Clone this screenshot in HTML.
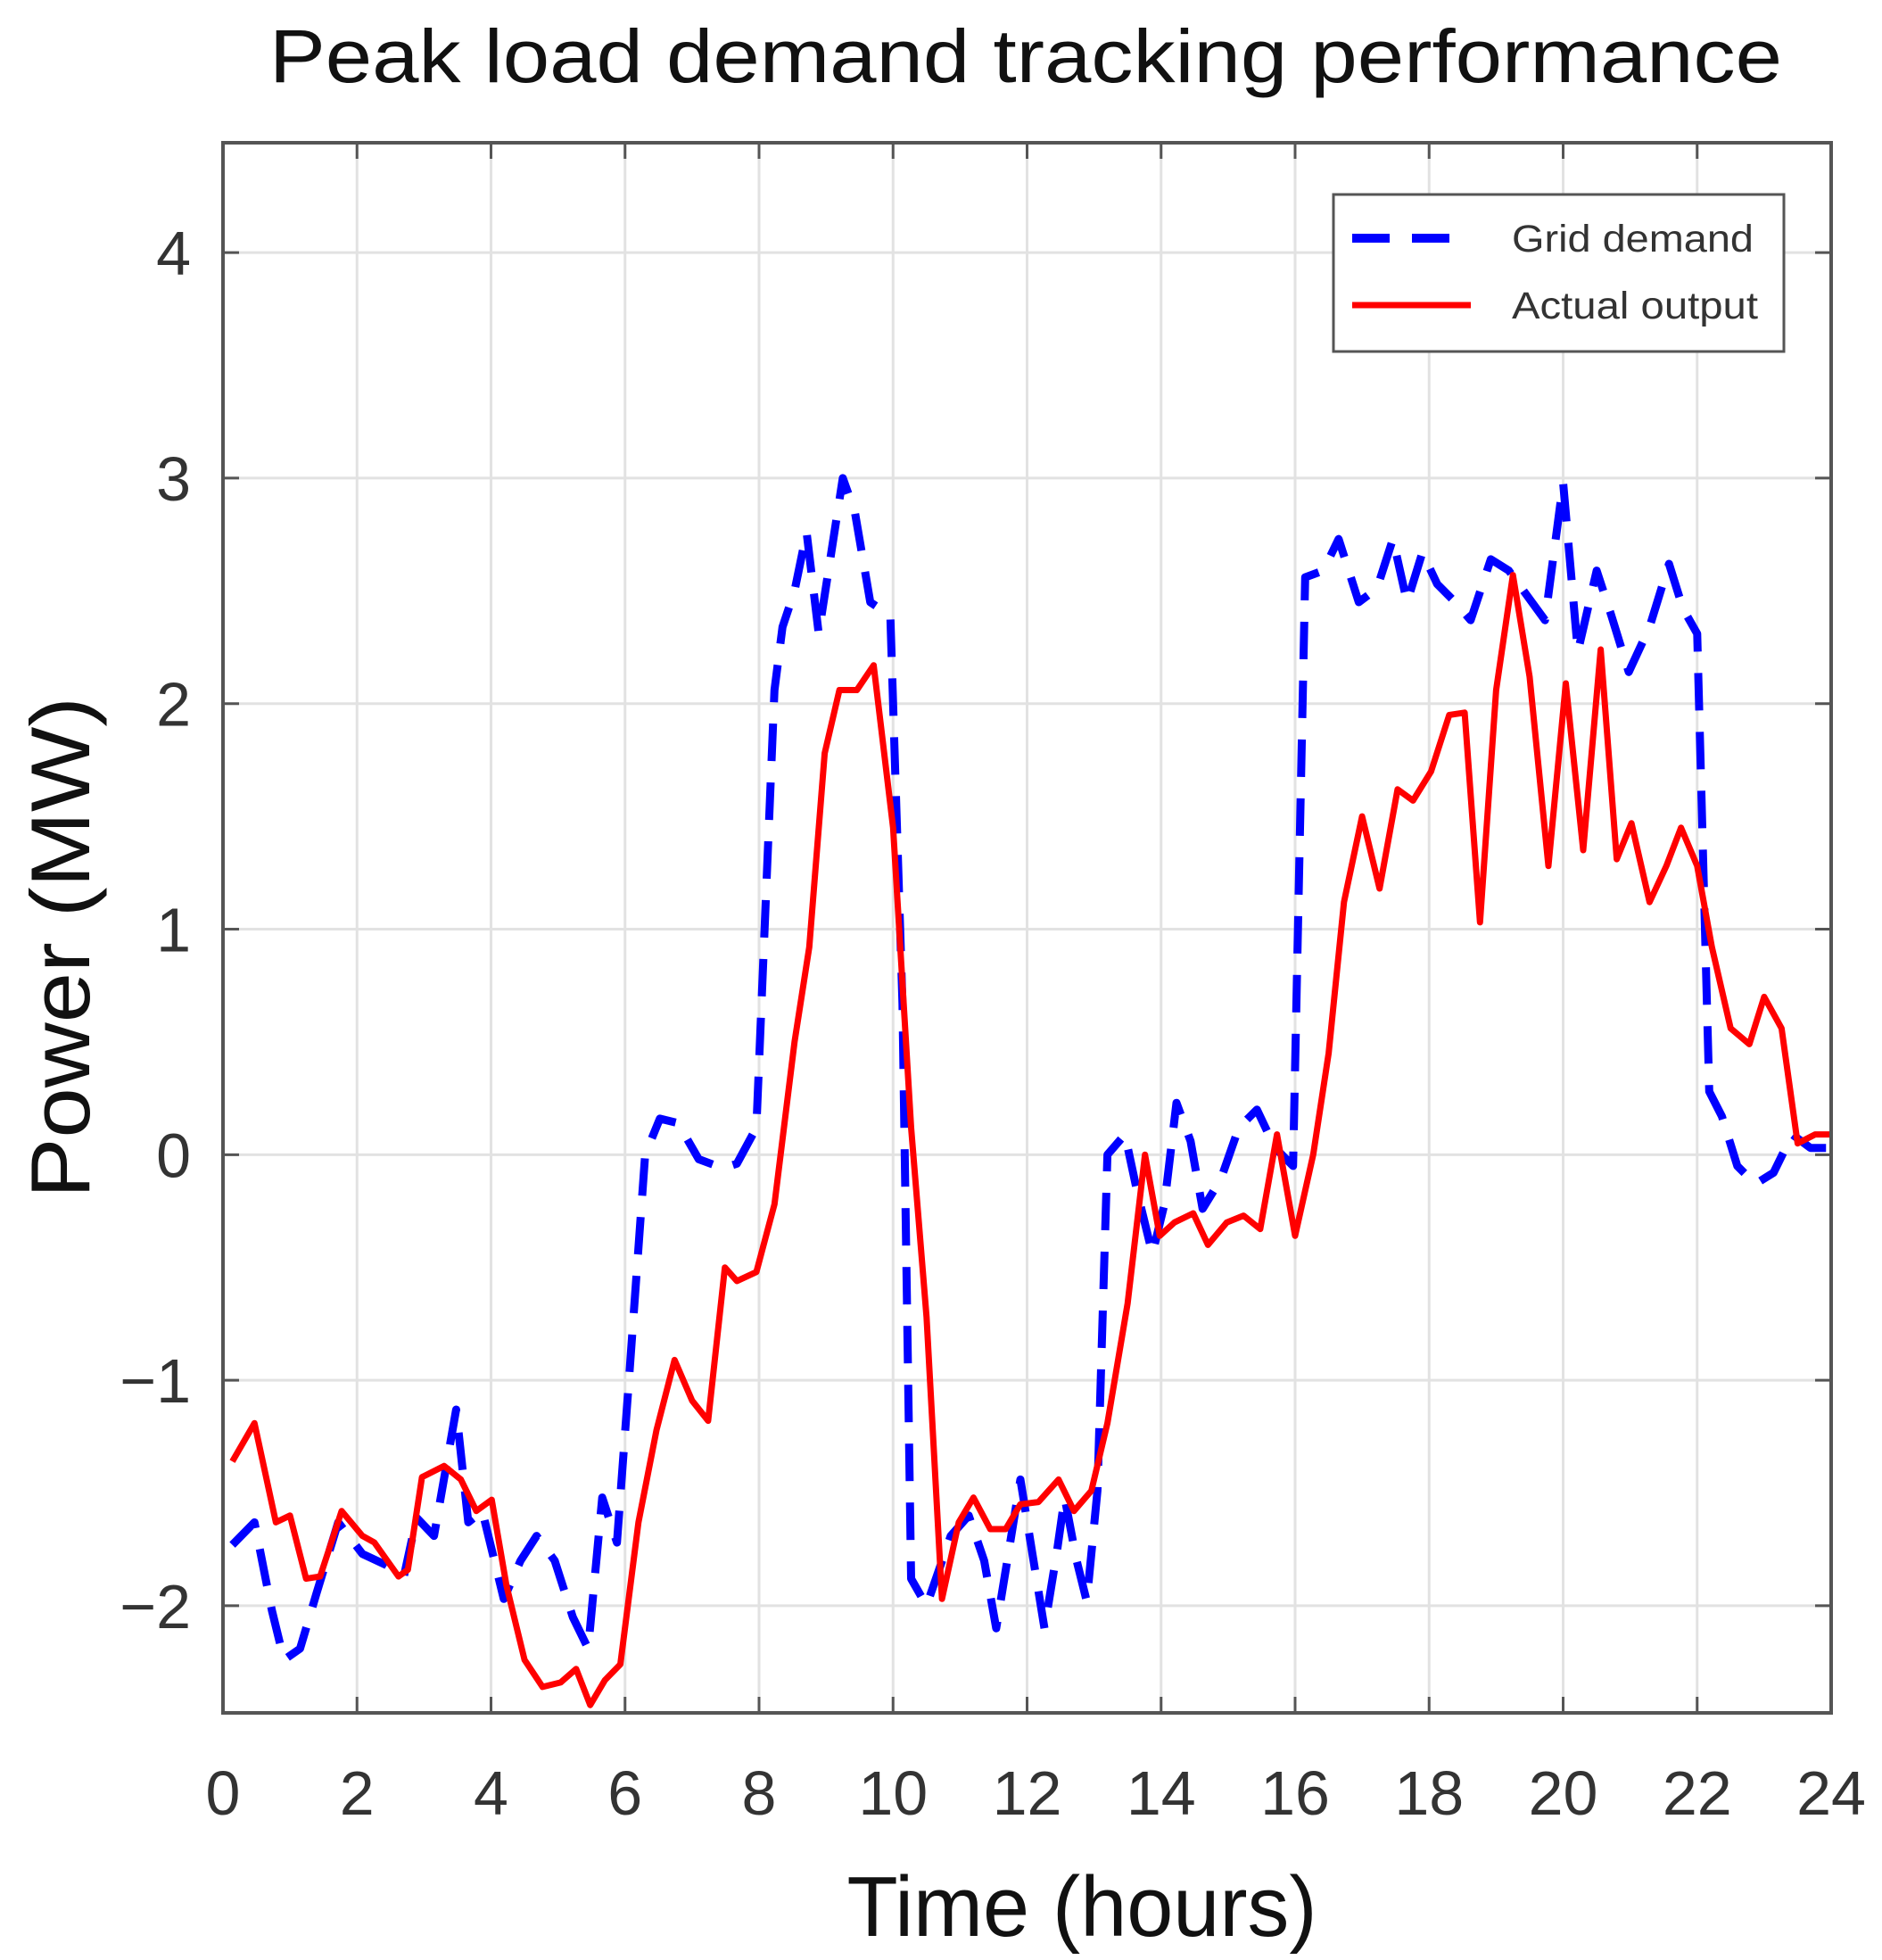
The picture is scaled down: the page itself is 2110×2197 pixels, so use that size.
<!DOCTYPE html>
<html><head><meta charset="utf-8"><style>
html,body{margin:0;padding:0;background:#fff;}
svg{display:block;font-family:"Liberation Sans",Arial,sans-serif;}
</style></head><body>
<svg id="chart" width="2110" height="2197" viewBox="0 0 2110 2197" xmlns="http://www.w3.org/2000/svg">
<rect x="0" y="0" width="2110" height="2197" fill="#fff"/>
<text x="1150" y="92" text-anchor="middle" font-size="84" textLength="1696" lengthAdjust="spacingAndGlyphs" fill="#111">Peak load demand tracking performance</text>
<g id="grid"></g>
<g id="ticks"></g>
<g id="series"></g>
<rect x="250" y="160" width="1803" height="1760" fill="none" stroke="#555" stroke-width="4"/>
<text x="1213" y="2170" text-anchor="middle" font-size="96" textLength="527" lengthAdjust="spacingAndGlyphs" fill="#111">Time (hours)</text>
<text transform="translate(100,1062) rotate(-90)" text-anchor="middle" font-size="94" textLength="562" lengthAdjust="spacingAndGlyphs" fill="#111">Power  (MW)</text>
<g>
<rect x="1495" y="218" width="505" height="176" fill="#fff" stroke="#555" stroke-width="3"/>
<line x1="1516" y1="267" x2="1649" y2="267" stroke="#0000ff" stroke-width="10" stroke-dasharray="42,25"/>
<text x="1695" y="282" font-size="43" textLength="271" lengthAdjust="spacingAndGlyphs" fill="#333">Grid demand</text>
<line x1="1516" y1="342" x2="1649" y2="342" stroke="#ff0000" stroke-width="7"/>
<text x="1695" y="357" font-size="43" textLength="276" lengthAdjust="spacingAndGlyphs" fill="#333">Actual output</text>
</g>
</svg>
<script>
const xTicks = [0,2,4,6,8,10,12,14,16,18,20,22,24];
const yTicks = [-2,-1,0,1,2,3,4];
const yTickLabels = ["\u22122","\u22121","0","1","2","3","4"];
const demandHours = [0.14,0.47,0.73,0.91,1.15,1.4,1.72,2.08,2.44,2.7,2.89,3.15,3.48,3.66,3.87,4.19,4.44,4.68,4.95,5.22,5.45,5.66,5.88,6.06,6.3,6.52,6.79,7.1,7.46,7.67,7.96,8.23,8.35,8.53,8.71,8.89,9.25,9.43,9.66,9.96,10.14,10.27,10.5,10.86,11.13,11.36,11.54,11.72,11.9,12.08,12.26,12.44,12.56,12.74,12.89,13.05,13.2,13.46,13.64,13.87,14.05,14.23,14.44,14.62,14.89,15.16,15.43,15.7,15.97,16.15,16.42,16.65,16.95,17.22,17.46,17.67,17.9,18.12,18.39,18.62,18.92,19.19,19.46,19.73,20.0,20.22,20.5,20.72,20.98,21.29,21.58,21.79,22.0,22.18,22.37,22.6,22.87,23.14,23.42,23.69,24.0];
const demandMW = [-1.73,-1.63,-2.02,-2.24,-2.19,-1.94,-1.63,-1.77,-1.82,-1.87,-1.61,-1.69,-1.13,-1.63,-1.58,-1.97,-1.8,-1.69,-1.8,-2.05,-2.19,-1.52,-1.72,-0.99,0.0,0.16,0.14,-0.02,-0.06,-0.04,0.12,2.06,2.34,2.5,2.76,2.31,3.0,2.85,2.45,2.39,0.67,-1.88,-2.0,-1.69,-1.6,-1.8,-2.1,-1.77,-1.44,-1.77,-2.1,-1.77,-1.52,-1.8,-1.98,-1.49,0.0,0.09,-0.16,-0.44,-0.22,0.23,0.06,-0.24,-0.11,0.12,0.2,0.03,-0.05,2.56,2.59,2.73,2.45,2.51,2.73,2.45,2.67,2.53,2.45,2.37,2.64,2.59,2.48,2.37,2.98,2.23,2.59,2.39,2.14,2.34,2.62,2.42,2.31,0.28,0.17,-0.05,-0.13,-0.08,0.09,0.03,0.03];
const outputHours = [0.14,0.47,0.79,1.0,1.24,1.45,1.77,2.08,2.26,2.62,2.76,2.97,3.3,3.55,3.78,4.01,4.23,4.5,4.77,5.04,5.27,5.48,5.7,5.93,6.2,6.47,6.74,7.0,7.24,7.49,7.67,7.96,8.23,8.53,8.75,8.98,9.2,9.46,9.71,10.0,10.27,10.5,10.73,10.98,11.2,11.45,11.68,11.9,12.17,12.47,12.7,12.96,13.2,13.5,13.76,13.98,14.2,14.48,14.7,14.98,15.23,15.48,15.73,16.0,16.27,16.5,16.73,17.0,17.26,17.53,17.76,18.03,18.3,18.53,18.76,19.0,19.25,19.5,19.78,20.04,20.3,20.56,20.8,21.02,21.29,21.54,21.76,22.0,22.22,22.5,22.78,23.0,23.26,23.5,23.76,24.0];
const outputMW = [-1.36,-1.19,-1.63,-1.6,-1.88,-1.87,-1.58,-1.69,-1.72,-1.87,-1.84,-1.43,-1.38,-1.44,-1.58,-1.53,-1.91,-2.24,-2.36,-2.34,-2.28,-2.44,-2.33,-2.26,-1.63,-1.22,-0.91,-1.09,-1.18,-0.5,-0.56,-0.52,-0.22,0.5,0.92,1.78,2.06,2.06,2.17,1.45,0.12,-0.72,-1.97,-1.63,-1.52,-1.66,-1.66,-1.55,-1.54,-1.44,-1.58,-1.49,-1.19,-0.66,0.0,-0.36,-0.3,-0.26,-0.4,-0.3,-0.27,-0.33,0.09,-0.36,0.0,0.45,1.12,1.5,1.18,1.62,1.57,1.7,1.95,1.96,1.03,2.06,2.57,2.12,1.28,2.09,1.35,2.24,1.31,1.47,1.12,1.28,1.45,1.28,0.92,0.56,0.49,0.7,0.56,0.05,0.09,0.09];

const L=250,R=2053,T=160,B=1920;
const xMin=0,xMax=24,yMin=-2.475,yMax=4.487;
function sx(h){return L+(h-xMin)/(xMax-xMin)*(R-L);}
function sy(v){return B-(v-yMin)/(yMax-yMin)*(B-T);}
const NS="http://www.w3.org/2000/svg";
function mk(tag,attrs,parent){const e=document.createElementNS(NS,tag);for(const k in attrs)e.setAttribute(k,attrs[k]);parent.appendChild(e);return e;}
const grid=document.getElementById('grid'),ticks=document.getElementById('ticks'),series=document.getElementById('series');
xTicks.forEach(t=>{
  const x=sx(t);
  const g=mk('line',{x1:x,y1:T,x2:x,y2:B,stroke:'#e2e2e2','stroke-width':3},grid);
  
  
  const tk=mk('line',{x1:x,y1:B,x2:x,y2:B-18,stroke:'#555','stroke-width':3},ticks);
  
  
  const tk2=mk('line',{x1:x,y1:T,x2:x,y2:T+18,stroke:'#555','stroke-width':3},ticks);
  
  
  const lb=mk('text',{x:x,y:2034,'text-anchor':'middle','font-size':70,fill:'#333'},ticks);
  lb.textContent=String(t);
  
  
});
yTicks.forEach((t,i)=>{
  const y=sy(t);
  const g=mk('line',{x1:L,y1:y,x2:R,y2:y,stroke:'#e2e2e2','stroke-width':3},grid);
  
  
  const tk=mk('line',{x1:L,y1:y,x2:L+18,y2:y,stroke:'#555','stroke-width':3},ticks);
  
  
  const tk2=mk('line',{x1:R,y1:y,x2:R-18,y2:y,stroke:'#555','stroke-width':3},ticks);
  
  
  const lb=mk('text',{x:214,y:y+25,'text-anchor':'end','font-size':70,fill:'#333'},ticks);
  lb.textContent=yTickLabels[i];
  
  
});
function pts(xs,ys){return xs.map((h,i)=>sx(h).toFixed(1)+','+sy(ys[i]).toFixed(1)).join(' ');}
const d=mk('polyline',{points:pts(demandHours,demandMW),fill:'none',stroke:'#0000ff','stroke-width':9,'stroke-dasharray':'42,24','stroke-linejoin':'round'},series);


const o=mk('polyline',{points:pts(outputHours,outputMW),fill:'none',stroke:'#ff0000','stroke-width':7,'stroke-linejoin':'round'},series);


</script>
</body></html>
